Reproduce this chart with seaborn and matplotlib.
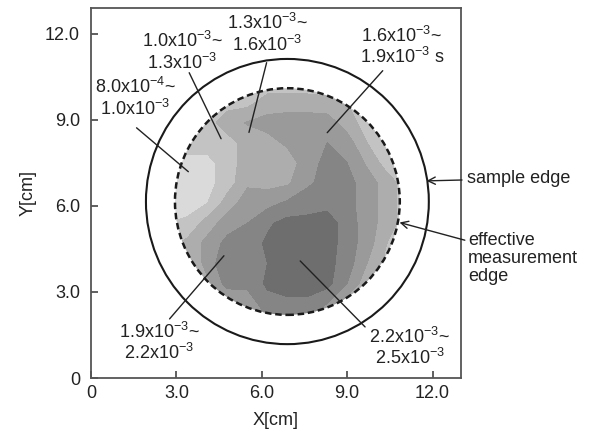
import numpy as np
import seaborn as sns
import matplotlib.pyplot as plt
from matplotlib.patches import Circle

# measurement grid [cm]
x_cm = [2.7, 3.4, 4.1, 4.8, 5.5, 6.2, 6.9, 7.6, 8.3, 9.0, 9.7, 10.4, 11.1]
y_cm = [1.9, 2.6, 3.3, 4.0, 4.7, 5.4, 6.1, 6.8, 7.5, 8.2, 8.9, 9.6, 10.3]

# values, units of 1e-3 s, rows bottom -> top
t_map = [
    [1.4, 1.4, 1.4, 1.5, 1.6, 1.8, 1.8, 1.8, 1.6, 1.4, 1.3, 1.2, 1.2],
    [1.4, 1.4, 1.4, 1.5, 1.7, 2.1, 2.15, 2.15, 1.9, 1.4, 1.3, 1.2, 1.2],
    [1.2, 1.3, 1.5, 2.05, 2.0, 2.25, 2.3, 2.3, 2.3, 1.9, 1.4, 1.2, 1.2],
    [1.1, 1.1, 1.8, 2.05, 2.1, 2.2, 2.35, 2.4, 2.3, 2.05, 1.6, 1.2, 1.1],
    [1.15, 1.4, 1.7, 2.0, 2.05, 2.25, 2.35, 2.4, 2.35, 2.05, 1.75, 1.3, 1.1],
    [1.0, 1.05, 1.45, 1.75, 1.9, 2.15, 2.3, 2.3, 2.35, 2.05, 1.75, 1.45, 1.15],
    [0.9, 0.9, 1.0, 1.45, 1.75, 1.8, 1.95, 2.05, 2.1, 2.0, 1.75, 1.45, 1.15],
    [0.9, 0.9, 0.9, 1.15, 1.55, 1.5, 1.55, 1.85, 2.0, 2.0, 1.75, 1.45, 1.15],
    [0.9, 0.9, 0.9, 1.15, 1.45, 1.45, 1.45, 1.75, 2.0, 1.9, 1.55, 1.15, 1.1],
    [1.15, 1.15, 1.15, 1.15, 1.45, 1.5, 1.65, 1.75, 1.9, 1.75, 1.3, 1.1, 1.1],
    [1.15, 1.15, 1.15, 1.5, 1.62, 1.7, 1.75, 1.75, 1.75, 1.45, 1.15, 1.1, 1.1],
    [1.15, 1.15, 1.15, 1.15, 1.2, 1.45, 1.45, 1.45, 1.4, 1.3, 1.15, 1.1, 1.1],
    [1.1, 1.1, 1.1, 1.1, 1.1, 1.1, 1.1, 1.1, 1.1, 1.1, 1.1, 1.1, 1.1],
]

levels = [0.8, 1.0, 1.3, 1.6, 1.9, 2.2, 2.5]
grays = ["#dadada", "#c3c3c3", "#adadad", "#9a9a9a", "#858585", "#6e6e6e"]

center = (6.9, 6.15)
r_sample = 4.97
r_eff = 3.95

# range labels: text, text position, leader line start, leader line end
range_text = [
    "8.0x10$^{-4}$~\n1.0x10$^{-3}$",
    "1.0x10$^{-3}$~\n1.3x10$^{-3}$",
    "1.3x10$^{-3}$~\n1.6x10$^{-3}$",
    "1.6x10$^{-3}$~\n1.9x10$^{-3}$ s",
    "1.9x10$^{-3}$~\n2.2x10$^{-3}$",
    "2.2x10$^{-3}$~\n2.5x10$^{-3}$",
]
range_pos = [(1.55, 9.75), (3.2, 11.37), (6.2, 11.98), (10.92, 11.56), (2.4, 1.24), (11.2, 1.06)]
lead_from = [(1.6, 8.72), (3.45, 10.64), (6.17, 10.99), (10.25, 10.71), (2.76, 2.06), (9.63, 1.78)]
lead_to = [(3.42, 7.19), (4.57, 8.34), (5.55, 8.56), (8.3, 8.55), (4.67, 4.26), (7.35, 4.08)]

sns.set_theme(style="ticks")
plt.rcParams["font.family"] = ["Liberation Sans", "DejaVu Sans"]
plt.rcParams["mathtext.fontset"] = "custom"
plt.rcParams["mathtext.rm"] = "Liberation Sans"
plt.rcParams["mathtext.default"] = "regular"

fig = plt.figure(figsize=(6.08, 4.37), dpi=100)
ax = fig.add_axes([0.1497, 0.135, 0.6085, 0.847])

X, Y = np.meshgrid(x_cm, y_cm)
cs = ax.contourf(X, Y, np.array(t_map), levels=levels, colors=grays)
clip = Circle(center, r_eff, transform=ax.transData)
cs.set_clip_path(clip)

ax.add_patch(Circle(center, r_sample, fill=False, ec="#1a1a1a", lw=1.5))
ax.add_patch(Circle(center, r_eff, fill=False, ec="#1a1a1a", lw=1.8,
                    ls=(0, (2.6, 1.5))))

fs = 13
for txt, pos, a, b in zip(range_text, range_pos, lead_from, lead_to):
    ax.text(pos[0], pos[1], txt, ha="center", va="center", fontsize=fs,
            color="#222222", linespacing=1.1, multialignment="center")
    ax.annotate("", xy=b, xytext=a,
                arrowprops=dict(arrowstyle="-", color="#222222", lw=1.0,
                                shrinkA=0, shrinkB=0))

ax.annotate("sample edge", xy=(11.79, 6.87), xytext=(13.2, 6.95),
            ha="left", va="center", fontsize=fs, color="#222222",
            annotation_clip=False,
            arrowprops=dict(arrowstyle="->", color="#222222", lw=1.0,
                            shrinkA=1, shrinkB=0))
ax.annotate("effective\nmeasurement\nedge", xy=(10.84, 5.42), xytext=(13.25, 4.17),
            ha="left", va="center", fontsize=fs, color="#222222",
            linespacing=1.05, annotation_clip=False,
            arrowprops=dict(arrowstyle="->", color="#222222", lw=1.0,
                            shrinkA=0, shrinkB=0, relpos=(0.0, 0.83)))

ax.set_xlim(0, 13.0)
ax.set_ylim(0, 12.9)
ax.set_xticks([0, 3, 6, 9, 12])
ax.set_xticklabels(["0", "3.0", "6.0", "9.0", "12.0"])
ax.set_yticks([0, 3, 6, 9, 12])
ax.set_yticklabels(["0", "3.0", "6.0", "9.0", "12.0"])
ax.tick_params(direction="in", length=5, width=1.2, color="#444444",
               labelsize=fs, labelcolor="#222222")
ax.tick_params(axis="y", pad=8)
ax.tick_params(axis="x", pad=5)
for s in ax.spines.values():
    s.set_color("#555555")
    s.set_linewidth(1.3)
ax.set_xlabel("X[cm]", fontsize=fs, color="#222222", labelpad=7)
ax.set_ylabel("Y[cm]", fontsize=fs, color="#222222", labelpad=6)

fig.savefig("out.png", dpi=100)
